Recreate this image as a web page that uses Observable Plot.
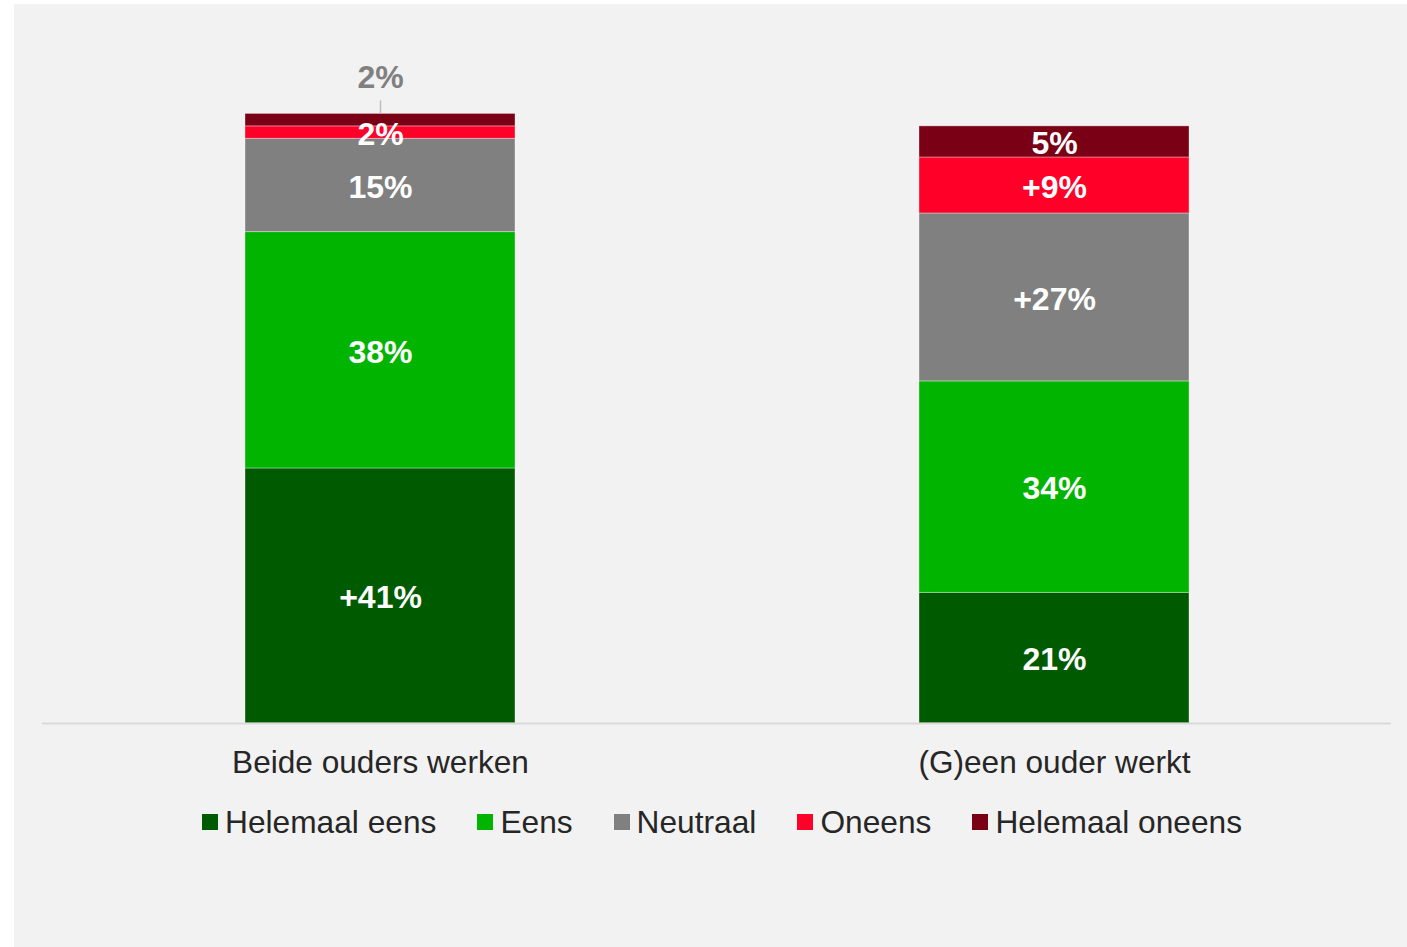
<!DOCTYPE html>
<html><head><meta charset="utf-8">
<script src="https://cdn.jsdelivr.net/npm/d3@7"></script>
<script src="https://cdn.jsdelivr.net/npm/@observablehq/plot@0.6"></script>
<style>
html,body{margin:0;padding:0;background:#fff;}
#panel{position:absolute;left:14px;top:4px;width:1393px;height:943px;background:#f2f2f2;font-family:"Liberation Sans",Arial,sans-serif;}
#panel svg{position:absolute;left:0;top:0;}
#legend{position:absolute;left:188px;top:798px;height:40px;display:flex;align-items:center;font-size:31.7px;color:#262626;white-space:nowrap;}
.item{display:flex;align-items:center;margin-right:41px;}
.sw{width:16px;height:16px;margin-right:7px;flex:none;}
</style></head><body><div id="panel"></div>
<script>
const groups = ["Beide ouders werken", "(G)een ouder werkt"];
const answers = ["Helemaal eens", "Eens", "Neutraal", "Oneens", "Helemaal oneens"];
const colors = ["#005a00", "#00b400", "#808080", "#ff0029", "#7a0015"];
const beideValues = [41, 38, 15, 2, 2];
const geenValues = [21, 34, 27, 9, 5];
const beideLabels = ["+41%", "38%", "15%", "2%", "2%"];
const geenLabels = ["21%", "34%", "+27%", "+9%", "5%"];
// label drawn above the bar (gray, with leader line)
const outsideLabel = {group: "Beide ouders werken", answer: "Helemaal oneens"};

const rows = [];
[[groups[0], beideValues, beideLabels], [groups[1], geenValues, geenLabels]].forEach(([g, vals, labs]) => {
  answers.forEach((a, i) => rows.push({group: g, answer: a, value: vals[i], label: labs[i],
    outside: g === outsideLabel.group && a === outsideLabel.answer}));
});
const totals = new Map(groups.map(g => [g, d3.sum(rows.filter(r => r.group === g), r => r.value)]));
const outsideRows = rows.filter(r => r.outside).map(r => ({...r, top: totals.get(r.group)}));

const font = "Liberation Sans, Arial, sans-serif";
const plot = Plot.plot({
  width: 1393, height: 790,
  marginLeft: 28, marginRight: 16, marginTop: 97, marginBottom: 71,
  style: {background: "transparent", fontFamily: font, overflow: "visible"},
  x: {domain: groups, paddingInner: 0.6, paddingOuter: 0.3, label: null, axis: null},
  y: {domain: [0, 100], axis: null},
  color: {domain: answers, range: colors},
  marks: [
    Plot.barY(rows, {x: "group", y: "value", fill: "answer", z: "answer", order: answers,
      stroke: "#ffffff", strokeOpacity: 0.35, strokeWidth: 1}),
    Plot.ruleY([0], {stroke: "#d9d9d9", strokeWidth: 2}),
    Plot.axisX({tickSize: 0, tickPadding: 27, fontSize: 31.6, fill: "#262626", label: null}),
    Plot.text(rows, Plot.stackY({x: "group", y: "value", z: "answer", order: answers,
      text: d => d.outside ? "" : d.label, fill: "white", fontWeight: "bold", fontSize: 32, dy: 2})),
    Plot.ruleX(outsideRows, {x: "group", y1: "top", y2: d => d.top + 2.1, stroke: "#bfbfbf", strokeWidth: 1.5}),
    Plot.text(outsideRows, {x: "group", y: "top", text: "label", dy: -36, fill: "#808080", fontWeight: "bold", fontSize: 32})
  ]
});
const panel = document.getElementById("panel");
panel.appendChild(plot);

const legend = document.createElement("div");
legend.id = "legend";
answers.forEach((a, i) => {
  const it = document.createElement("div");
  it.className = "item";
  const sw = document.createElement("div");
  sw.className = "sw";
  sw.style.background = colors[i];
  const t = document.createElement("span");
  t.textContent = a;
  it.appendChild(sw); it.appendChild(t);
  legend.appendChild(it);
});
panel.appendChild(legend);
</script></body></html>
